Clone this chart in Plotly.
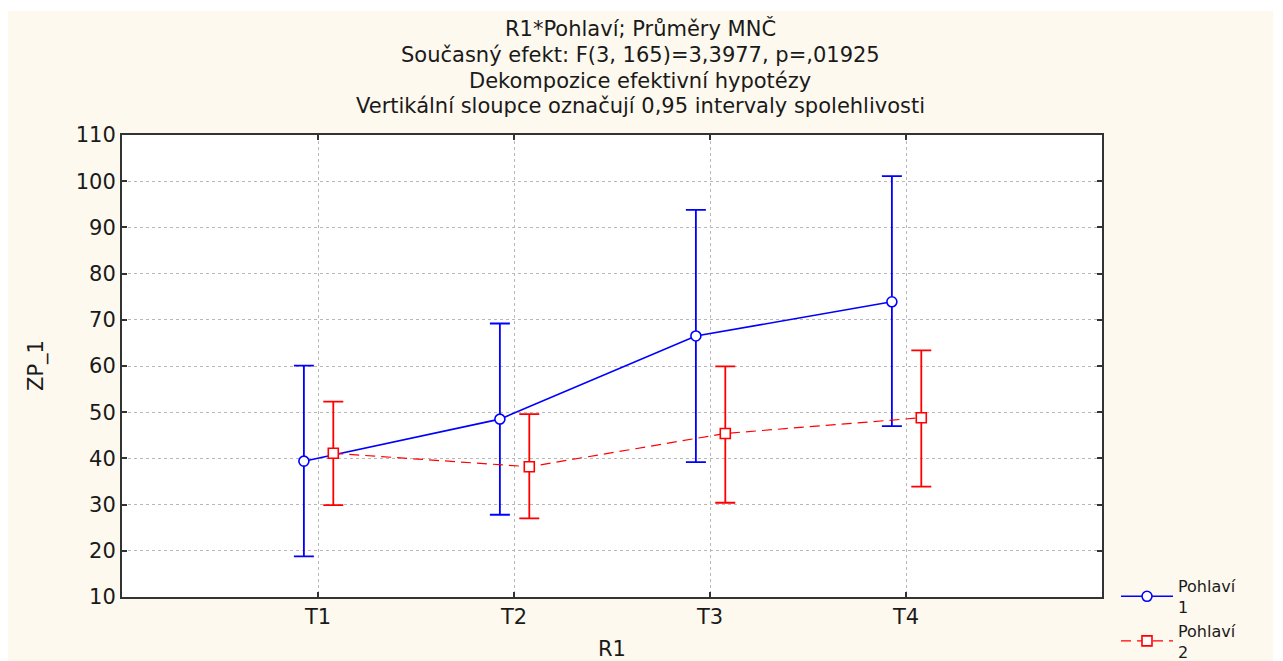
import plotly.graph_objects as go

categories = ["T1", "T2", "T3", "T4"]
cat_pos = [1, 2, 3, 4]

# Pohlaví 1 (blue)
mean_1 = [39.4, 48.5, 66.5, 73.9]
lower_1 = [18.8, 27.8, 39.2, 47.0]
upper_1 = [60.1, 69.2, 93.8, 101.1]

# Pohlaví 2 (red)
mean_2 = [41.1, 38.2, 45.4, 48.8]
lower_2 = [29.9, 27.0, 30.4, 33.9]
upper_2 = [52.3, 49.6, 59.9, 63.4]

y_ticks = [10, 20, 30, 40, 50, 60, 70, 80, 90, 100, 110]

title_lines = [
    "R1*Pohlaví; Průměry MNČ",
    "Současný efekt: F(3, 165)=3,3977, p=,01925",
    "Dekompozice efektivní hypotézy",
    "Vertikální sloupce označují 0,95 intervaly spolehlivosti",
]

FONT = "DejaVu Sans"
FS = 21
TXT = "#1a1a1a"
BLUE = "#0000ff"
RED = "#ff0000"
CREAM = "#fef9ee"

# figure is placed by the page at (8, 8); all px below are figure px
W, H = 1265, 653
L, R, T, B = 114, 1094, 127, 589  # plot area in px
PW, PH = R - L, B - T


def px_x(x):
    return (x - L) / PW


def px_y(y):
    return (B - y) / PH


off1, off2 = -0.072, 0.078

fig = go.Figure()
fig.add_trace(go.Scatter(
    x=[p + off1 for p in cat_pos], y=mean_1,
    mode="lines+markers", name="Pohlaví<br>1",
    line=dict(color=BLUE, width=1.6),
    marker=dict(symbol="circle", size=10, color="white", line=dict(color=BLUE, width=1.6)),
    error_y=dict(type="data", symmetric=False,
                 array=[u - m for u, m in zip(upper_1, mean_1)],
                 arrayminus=[m - l for m, l in zip(mean_1, lower_1)],
                 color=BLUE, thickness=1.8, width=10),
))
fig.add_trace(go.Scatter(
    x=[p + off2 for p in cat_pos], y=mean_2,
    mode="lines+markers", name="Pohlaví<br>2",
    line=dict(color=RED, width=1.2, dash="10px,6px"),
    marker=dict(symbol="square", size=10, color="white", line=dict(color=RED, width=1.6)),
    error_y=dict(type="data", symmetric=False,
                 array=[u - m for u, m in zip(upper_2, mean_2)],
                 arrayminus=[m - l for m, l in zip(mean_2, lower_2)],
                 color=RED, thickness=1.8, width=10),
))

annotations = []
line_px = [20, 47, 73, 98]
for t, ypx in zip(title_lines, line_px):
    annotations.append(dict(
        text=t, xref="paper", yref="paper",
        x=px_x(632), y=px_y(ypx),
        xanchor="center", yanchor="middle", showarrow=False,
        font=dict(family=FONT, size=FS, color=TXT),
    ))
annotations.append(dict(
    text="ZP_1", xref="paper", yref="paper", x=px_x(28), y=px_y(358),
    xanchor="center", yanchor="middle", showarrow=False, textangle=-90,
    font=dict(family=FONT, size=FS, color=TXT),
))
annotations.append(dict(
    text="R1", xref="paper", yref="paper", x=px_x(604), y=px_y(641),
    xanchor="center", yanchor="middle", showarrow=False,
    font=dict(family=FONT, size=FS, color=TXT),
))

# thin white strip at the very top of the page
shapes = [
    dict(type="rect", xref="paper", yref="paper", x0=px_x(-5), x1=px_x(W + 5),
         y0=px_y(3), y1=px_y(-5), fillcolor="white", line_width=0, layer="below"),
]

axis_common = dict(
    showgrid=True, gridcolor="#b8b8b8", griddash="dot", gridwidth=1,
    showline=True, linecolor="#333333", linewidth=2, mirror="ticks",
    ticks="inside", ticklen=5, tickcolor="#333333", tickwidth=2,
    zeroline=False, automargin=False,
    tickfont=dict(family=FONT, size=FS, color=TXT),
)

fig.update_layout(
    width=W, height=H,
    margin=dict(l=L, r=W - R, t=T, b=H - B, autoexpand=False),
    paper_bgcolor=CREAM, plot_bgcolor="white",
    font=dict(family=FONT, size=FS, color=TXT),
    annotations=annotations,
    shapes=shapes,
    showlegend=True,
    legend=dict(
        xref="container", yref="container",
        x=1108 / W, y=(H - 561) / H, xanchor="left", yanchor="top",
        bgcolor="rgba(0,0,0,0)", font=dict(family=FONT, size=16, color=TXT),
        itemwidth=52, tracegroupgap=0,
    ),
    xaxis=dict(range=[0, 5], tickmode="array", tickvals=cat_pos, ticktext=categories,
               **axis_common),
    yaxis=dict(range=[10, 110], tickmode="array", tickvals=y_ticks, **axis_common),
)

fig.write_html("out.html")
